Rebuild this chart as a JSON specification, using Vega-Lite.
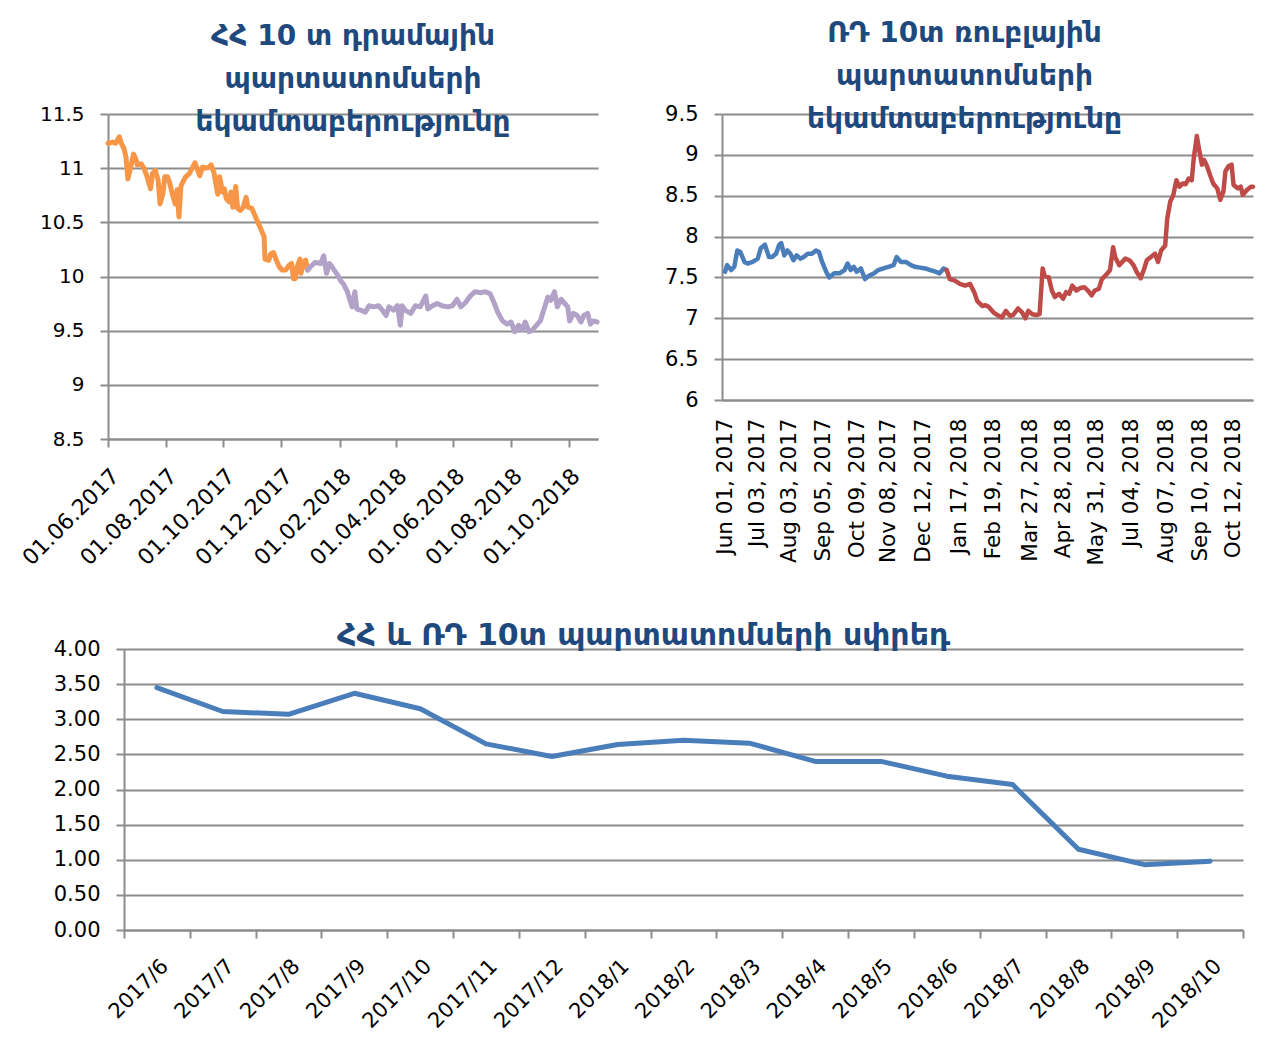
{
  "$schema": "https://vega.github.io/schema/vega-lite/v6.json",
  "background": "white",
  "padding": {"left": 17, "top": 20, "right": 5, "bottom": 5},
  "config": {
    "font": "DejaVu Sans",
    "view": {"stroke": null},
    "axis": {
      "labelFont": "DejaVu Sans", "labelFontSize": 20, "labelColor": "#000000",
      "domainColor": "#8c8c8c", "domainWidth": 2, "tickColor": "#8c8c8c", "tickWidth": 2, "tickSize": 8,
      "gridColor": "#8c8c8c", "gridWidth": 2, "labelPadding": 16, "title": null,
      "labelOverlap": false, "labelFlush": false
    },
    "title": {"font": "DejaVu Sans", "fontWeight": "bold", "color": "#1F497D", "anchor": "middle"}
  },
  "datasets": {
    "am": [
      {"d":"2017-06-01","v":11.23,"s":"o"},{"d":"2017-06-06","v":11.24,"s":"o"},{"d":"2017-06-09","v":11.23,"s":"o"},{"d":"2017-06-13","v":11.29,"s":"o"},{"d":"2017-06-15","v":11.23,"s":"o"},{"d":"2017-06-18","v":11.18,"s":"o"},{"d":"2017-06-20","v":11.10,"s":"o"},{"d":"2017-06-22","v":10.90,"s":"o"},{"d":"2017-06-25","v":11.01,"s":"o"},{"d":"2017-06-28","v":11.13,"s":"o"},{"d":"2017-07-01","v":11.07,"s":"o"},{"d":"2017-07-02","v":11.03,"s":"o"},{"d":"2017-07-06","v":11.04,"s":"o"},{"d":"2017-07-09","v":11.00,"s":"o"},{"d":"2017-07-12","v":10.93,"s":"o"},{"d":"2017-07-16","v":10.81,"s":"o"},{"d":"2017-07-18","v":10.95,"s":"o"},{"d":"2017-07-21","v":10.98,"s":"o"},{"d":"2017-07-24","v":10.89,"s":"o"},{"d":"2017-07-26","v":10.67,"s":"o"},{"d":"2017-07-29","v":10.76,"s":"o"},{"d":"2017-07-31","v":10.92,"s":"o"},{"d":"2017-08-03","v":10.92,"s":"o"},{"d":"2017-08-05","v":10.87,"s":"o"},{"d":"2017-08-08","v":10.76,"s":"o"},{"d":"2017-08-11","v":10.67,"s":"o"},{"d":"2017-08-13","v":10.80,"s":"o"},{"d":"2017-08-15","v":10.55,"s":"o"},{"d":"2017-08-17","v":10.83,"s":"o"},{"d":"2017-08-19","v":10.87,"s":"o"},{"d":"2017-08-22","v":10.92,"s":"o"},{"d":"2017-08-26","v":10.95,"s":"o"},{"d":"2017-08-29","v":11.00,"s":"o"},{"d":"2017-09-01","v":11.05,"s":"o"},{"d":"2017-09-03","v":11.00,"s":"o"},{"d":"2017-09-06","v":10.93,"s":"o"},{"d":"2017-09-09","v":11.01,"s":"o"},{"d":"2017-09-12","v":11.00,"s":"o"},{"d":"2017-09-16","v":11.01,"s":"o"},{"d":"2017-09-18","v":11.03,"s":"o"},{"d":"2017-09-21","v":10.96,"s":"o"},{"d":"2017-09-23","v":10.86,"s":"o"},{"d":"2017-09-25","v":10.76,"s":"o"},{"d":"2017-09-27","v":10.92,"s":"o"},{"d":"2017-09-30","v":10.78,"s":"o"},{"d":"2017-10-02","v":10.81,"s":"o"},{"d":"2017-10-04","v":10.72,"s":"o"},{"d":"2017-10-07","v":10.69,"s":"o"},{"d":"2017-10-09","v":10.78,"s":"o"},{"d":"2017-10-11","v":10.64,"s":"o"},{"d":"2017-10-14","v":10.83,"s":"o"},{"d":"2017-10-16","v":10.63,"s":"o"},{"d":"2017-10-19","v":10.61,"s":"o"},{"d":"2017-10-22","v":10.64,"s":"o"},{"d":"2017-10-25","v":10.73,"s":"o"},{"d":"2017-10-27","v":10.64,"s":"o"},{"d":"2017-10-31","v":10.63,"s":"o"},{"d":"2017-11-04","v":10.55,"s":"o"},{"d":"2017-11-07","v":10.49,"s":"o"},{"d":"2017-11-10","v":10.43,"s":"o"},{"d":"2017-11-13","v":10.37,"s":"o"},{"d":"2017-11-14","v":10.16,"s":"o"},{"d":"2017-11-18","v":10.15,"s":"o"},{"d":"2017-11-20","v":10.21,"s":"o"},{"d":"2017-11-23","v":10.22,"s":"o"},{"d":"2017-11-26","v":10.15,"s":"o"},{"d":"2017-11-29","v":10.09,"s":"o"},{"d":"2017-12-02","v":10.06,"s":"o"},{"d":"2017-12-06","v":10.06,"s":"o"},{"d":"2017-12-09","v":10.10,"s":"o"},{"d":"2017-12-12","v":10.12,"s":"o"},{"d":"2017-12-14","v":9.98,"s":"o"},{"d":"2017-12-16","v":9.98,"s":"o"},{"d":"2017-12-18","v":10.09,"s":"o"},{"d":"2017-12-21","v":10.16,"s":"o"},{"d":"2017-12-22","v":10.03,"s":"o"},{"d":"2017-12-25","v":10.13,"s":"o"},{"d":"2017-12-27","v":10.15,"s":"o"},{"d":"2017-12-29","v":10.06,"s":"o"},
      {"d":"2017-12-29","v":10.06,"s":"l"},{"d":"2018-01-01","v":10.09,"s":"l"},{"d":"2018-01-06","v":10.13,"s":"l"},{"d":"2018-01-12","v":10.12,"s":"l"},{"d":"2018-01-15","v":10.19,"s":"l"},{"d":"2018-01-18","v":10.03,"s":"l"},{"d":"2018-01-21","v":10.12,"s":"l"},{"d":"2018-01-23","v":10.10,"s":"l"},{"d":"2018-01-26","v":10.06,"s":"l"},{"d":"2018-01-30","v":10.01,"s":"l"},{"d":"2018-02-02","v":9.96,"s":"l"},{"d":"2018-02-05","v":9.93,"s":"l"},{"d":"2018-02-09","v":9.86,"s":"l"},{"d":"2018-02-14","v":9.72,"s":"l"},{"d":"2018-02-17","v":9.86,"s":"l"},{"d":"2018-02-19","v":9.70,"s":"l"},{"d":"2018-02-23","v":9.69,"s":"l"},{"d":"2018-02-28","v":9.67,"s":"l"},{"d":"2018-03-04","v":9.73,"s":"l"},{"d":"2018-03-09","v":9.72,"s":"l"},{"d":"2018-03-14","v":9.73,"s":"l"},{"d":"2018-03-18","v":9.69,"s":"l"},{"d":"2018-03-22","v":9.64,"s":"l"},{"d":"2018-03-25","v":9.72,"s":"l"},{"d":"2018-03-30","v":9.69,"s":"l"},{"d":"2018-04-03","v":9.73,"s":"l"},{"d":"2018-04-06","v":9.55,"s":"l"},{"d":"2018-04-08","v":9.73,"s":"l"},{"d":"2018-04-11","v":9.69,"s":"l"},{"d":"2018-04-17","v":9.66,"s":"l"},{"d":"2018-04-22","v":9.73,"s":"l"},{"d":"2018-04-27","v":9.72,"s":"l"},{"d":"2018-05-03","v":9.82,"s":"l"},{"d":"2018-05-05","v":9.70,"s":"l"},{"d":"2018-05-10","v":9.73,"s":"l"},{"d":"2018-05-15","v":9.75,"s":"l"},{"d":"2018-05-20","v":9.73,"s":"l"},{"d":"2018-05-26","v":9.72,"s":"l"},{"d":"2018-05-31","v":9.73,"s":"l"},{"d":"2018-06-05","v":9.79,"s":"l"},{"d":"2018-06-09","v":9.72,"s":"l"},{"d":"2018-06-14","v":9.76,"s":"l"},{"d":"2018-06-19","v":9.82,"s":"l"},{"d":"2018-06-24","v":9.86,"s":"l"},{"d":"2018-06-30","v":9.85,"s":"l"},{"d":"2018-07-05","v":9.86,"s":"l"},{"d":"2018-07-10","v":9.84,"s":"l"},{"d":"2018-07-14","v":9.76,"s":"l"},{"d":"2018-07-18","v":9.67,"s":"l"},{"d":"2018-07-23","v":9.59,"s":"l"},{"d":"2018-07-28","v":9.56,"s":"l"},{"d":"2018-08-01","v":9.58,"s":"l"},{"d":"2018-08-05","v":9.49,"s":"l"},{"d":"2018-08-09","v":9.55,"s":"l"},{"d":"2018-08-13","v":9.51,"s":"l"},{"d":"2018-08-16","v":9.58,"s":"l"},{"d":"2018-08-20","v":9.49,"s":"l"},{"d":"2018-08-23","v":9.50,"s":"l"},{"d":"2018-08-29","v":9.56,"s":"l"},{"d":"2018-09-01","v":9.59,"s":"l"},{"d":"2018-09-05","v":9.70,"s":"l"},{"d":"2018-09-09","v":9.81,"s":"l"},{"d":"2018-09-12","v":9.78,"s":"l"},{"d":"2018-09-16","v":9.86,"s":"l"},{"d":"2018-09-19","v":9.72,"s":"l"},{"d":"2018-09-23","v":9.79,"s":"l"},{"d":"2018-09-26","v":9.76,"s":"l"},{"d":"2018-09-30","v":9.72,"s":"l"},{"d":"2018-10-02","v":9.59,"s":"l"},{"d":"2018-10-06","v":9.66,"s":"l"},{"d":"2018-10-10","v":9.64,"s":"l"},{"d":"2018-10-14","v":9.58,"s":"l"},{"d":"2018-10-17","v":9.64,"s":"l"},{"d":"2018-10-21","v":9.66,"s":"l"},{"d":"2018-10-24","v":9.56,"s":"l"},{"d":"2018-10-27","v":9.59,"s":"l"},{"d":"2018-10-31","v":9.58,"s":"l"}
    ],
    "ru": [
      {"d":"2017-06-01","v":7.57,"s":"b"},{"d":"2017-06-03","v":7.65,"s":"b"},{"d":"2017-06-07","v":7.59,"s":"b"},{"d":"2017-06-10","v":7.63,"s":"b"},{"d":"2017-06-13","v":7.83,"s":"b"},{"d":"2017-06-16","v":7.81,"s":"b"},{"d":"2017-06-20","v":7.69,"s":"b"},{"d":"2017-06-23","v":7.67,"s":"b"},{"d":"2017-06-28","v":7.69,"s":"b"},{"d":"2017-07-03","v":7.73,"s":"b"},{"d":"2017-07-06","v":7.86,"s":"b"},{"d":"2017-07-10","v":7.90,"s":"b"},{"d":"2017-07-14","v":7.75,"s":"b"},{"d":"2017-07-17","v":7.75,"s":"b"},{"d":"2017-07-21","v":7.79,"s":"b"},{"d":"2017-07-24","v":7.90,"s":"b"},{"d":"2017-07-26","v":7.92,"s":"b"},{"d":"2017-07-29","v":7.77,"s":"b"},{"d":"2017-08-01","v":7.83,"s":"b"},{"d":"2017-08-04","v":7.79,"s":"b"},{"d":"2017-08-07","v":7.71,"s":"b"},{"d":"2017-08-10","v":7.77,"s":"b"},{"d":"2017-08-14","v":7.73,"s":"b"},{"d":"2017-08-17","v":7.75,"s":"b"},{"d":"2017-08-21","v":7.79,"s":"b"},{"d":"2017-08-25","v":7.79,"s":"b"},{"d":"2017-08-29","v":7.83,"s":"b"},{"d":"2017-09-01","v":7.81,"s":"b"},{"d":"2017-09-04","v":7.69,"s":"b"},{"d":"2017-09-08","v":7.57,"s":"b"},{"d":"2017-09-11","v":7.50,"s":"b"},{"d":"2017-09-16","v":7.55,"s":"b"},{"d":"2017-09-21","v":7.55,"s":"b"},{"d":"2017-09-26","v":7.59,"s":"b"},{"d":"2017-09-29","v":7.67,"s":"b"},{"d":"2017-10-02","v":7.59,"s":"b"},{"d":"2017-10-05","v":7.63,"s":"b"},{"d":"2017-10-08","v":7.57,"s":"b"},{"d":"2017-10-12","v":7.61,"s":"b"},{"d":"2017-10-16","v":7.48,"s":"b"},{"d":"2017-10-20","v":7.52,"s":"b"},{"d":"2017-10-25","v":7.55,"s":"b"},{"d":"2017-10-29","v":7.59,"s":"b"},{"d":"2017-11-03","v":7.61,"s":"b"},{"d":"2017-11-08","v":7.63,"s":"b"},{"d":"2017-11-13","v":7.65,"s":"b"},{"d":"2017-11-16","v":7.75,"s":"b"},{"d":"2017-11-20","v":7.69,"s":"b"},{"d":"2017-11-25","v":7.69,"s":"b"},{"d":"2017-11-30","v":7.65,"s":"b"},{"d":"2017-12-04","v":7.63,"s":"b"},{"d":"2017-12-09","v":7.62,"s":"b"},{"d":"2017-12-14","v":7.61,"s":"b"},{"d":"2017-12-19","v":7.59,"s":"b"},{"d":"2017-12-24","v":7.57,"s":"b"},{"d":"2017-12-28","v":7.55,"s":"b"},{"d":"2018-01-01","v":7.61,"s":"b"},{"d":"2018-01-04","v":7.59,"s":"b"},
      {"d":"2018-01-04","v":7.59,"s":"r"},{"d":"2018-01-07","v":7.48,"s":"r"},{"d":"2018-01-12","v":7.46,"s":"r"},{"d":"2018-01-17","v":7.42,"s":"r"},{"d":"2018-01-22","v":7.40,"s":"r"},{"d":"2018-01-27","v":7.42,"s":"r"},{"d":"2018-01-31","v":7.32,"s":"r"},{"d":"2018-02-03","v":7.21,"s":"r"},{"d":"2018-02-08","v":7.15,"s":"r"},{"d":"2018-02-11","v":7.16,"s":"r"},{"d":"2018-02-14","v":7.14,"s":"r"},{"d":"2018-02-19","v":7.07,"s":"r"},{"d":"2018-02-24","v":7.03,"s":"r"},{"d":"2018-02-27","v":7.01,"s":"r"},{"d":"2018-03-03","v":7.09,"s":"r"},{"d":"2018-03-07","v":7.03,"s":"r"},{"d":"2018-03-10","v":7.04,"s":"r"},{"d":"2018-03-15","v":7.12,"s":"r"},{"d":"2018-03-19","v":7.07,"s":"r"},{"d":"2018-03-22","v":7.00,"s":"r"},{"d":"2018-03-25","v":7.09,"s":"r"},{"d":"2018-03-29","v":7.05,"s":"r"},{"d":"2018-04-02","v":7.04,"s":"r"},{"d":"2018-04-05","v":7.05,"s":"r"},{"d":"2018-04-08","v":7.61,"s":"r"},{"d":"2018-04-10","v":7.52,"s":"r"},{"d":"2018-04-14","v":7.50,"s":"r"},{"d":"2018-04-17","v":7.34,"s":"r"},{"d":"2018-04-20","v":7.26,"s":"r"},{"d":"2018-04-24","v":7.30,"s":"r"},{"d":"2018-04-28","v":7.24,"s":"r"},{"d":"2018-05-01","v":7.32,"s":"r"},{"d":"2018-05-04","v":7.30,"s":"r"},{"d":"2018-05-07","v":7.40,"s":"r"},{"d":"2018-05-11","v":7.34,"s":"r"},{"d":"2018-05-15","v":7.37,"s":"r"},{"d":"2018-05-19","v":7.38,"s":"r"},{"d":"2018-05-23","v":7.33,"s":"r"},{"d":"2018-05-26","v":7.28,"s":"r"},{"d":"2018-05-29","v":7.34,"s":"r"},{"d":"2018-06-02","v":7.36,"s":"r"},{"d":"2018-06-05","v":7.48,"s":"r"},{"d":"2018-06-09","v":7.53,"s":"r"},{"d":"2018-06-13","v":7.59,"s":"r"},{"d":"2018-06-16","v":7.87,"s":"r"},{"d":"2018-06-18","v":7.75,"s":"r"},{"d":"2018-06-22","v":7.65,"s":"r"},{"d":"2018-06-25","v":7.69,"s":"r"},{"d":"2018-06-28","v":7.73,"s":"r"},{"d":"2018-07-02","v":7.71,"s":"r"},{"d":"2018-07-06","v":7.65,"s":"r"},{"d":"2018-07-09","v":7.57,"s":"r"},{"d":"2018-07-13","v":7.49,"s":"r"},{"d":"2018-07-16","v":7.59,"s":"r"},{"d":"2018-07-19","v":7.71,"s":"r"},{"d":"2018-07-23","v":7.75,"s":"r"},{"d":"2018-07-27","v":7.79,"s":"r"},{"d":"2018-07-30","v":7.69,"s":"r"},{"d":"2018-08-02","v":7.83,"s":"r"},{"d":"2018-08-06","v":7.89,"s":"r"},{"d":"2018-08-08","v":8.22,"s":"r"},{"d":"2018-08-11","v":8.43,"s":"r"},{"d":"2018-08-14","v":8.51,"s":"r"},{"d":"2018-08-17","v":8.69,"s":"r"},{"d":"2018-08-20","v":8.61,"s":"r"},{"d":"2018-08-23","v":8.65,"s":"r"},{"d":"2018-08-26","v":8.64,"s":"r"},{"d":"2018-08-29","v":8.71,"s":"r"},{"d":"2018-09-01","v":8.69,"s":"r"},{"d":"2018-09-03","v":8.96,"s":"r"},{"d":"2018-09-06","v":9.23,"s":"r"},{"d":"2018-09-08","v":9.08,"s":"r"},{"d":"2018-09-11","v":8.88,"s":"r"},{"d":"2018-09-13","v":8.94,"s":"r"},{"d":"2018-09-16","v":8.86,"s":"r"},{"d":"2018-09-19","v":8.75,"s":"r"},{"d":"2018-09-22","v":8.65,"s":"r"},{"d":"2018-09-26","v":8.59,"s":"r"},{"d":"2018-09-29","v":8.45,"s":"r"},{"d":"2018-10-02","v":8.55,"s":"r"},{"d":"2018-10-04","v":8.80,"s":"r"},{"d":"2018-10-07","v":8.86,"s":"r"},{"d":"2018-10-10","v":8.88,"s":"r"},{"d":"2018-10-12","v":8.63,"s":"r"},{"d":"2018-10-16","v":8.59,"s":"r"},{"d":"2018-10-19","v":8.61,"s":"r"},{"d":"2018-10-21","v":8.51,"s":"r"},{"d":"2018-10-25","v":8.57,"s":"r"},{"d":"2018-10-29","v":8.61,"s":"r"},{"d":"2018-10-31","v":8.61,"s":"r"}
    ],
    "spread": [
      {"m":"2017/6","v":3.45},{"m":"2017/7","v":3.11},{"m":"2017/8","v":3.07},{"m":"2017/9","v":3.37},{"m":"2017/10","v":3.15},{"m":"2017/11","v":2.65},{"m":"2017/12","v":2.47},{"m":"2018/1","v":2.64},{"m":"2018/2","v":2.70},{"m":"2018/3","v":2.66},{"m":"2018/4","v":2.40},{"m":"2018/5","v":2.40},{"m":"2018/6","v":2.19},{"m":"2018/7","v":2.07},{"m":"2018/8","v":1.15},{"m":"2018/9","v":0.93},{"m":"2018/10","v":0.98}
    ]
  },
  "concat": [
    {
      "hconcat": [
        {"width": 1, "height": 1, "data": {"values": []}, "mark": "point"},
        {
          "hconcat": [
            {
              "width": 490, "height": 325,
              "title": {"text": ["ՀՀ 10 տ դրամային", "պարտատոմսերի", "եկամտաբերությունը"], "fontSize": 28, "lineHeight": 43, "offset": -33},
              "data": {"name": "am"},
              "mark": {"type": "line", "strokeWidth": 5, "strokeJoin": "round", "strokeCap": "round"},
              "encoding": {
                "x": {"field": "d", "type": "temporal",
                  "scale": {"type": "utc", "domain": [{"year": 2017, "month": 6, "date": 1, "utc": true}, {"year": 2018, "month": 11, "date": 1, "utc": true}]},
                  "axis": {"format": "%d.%m.%Y", "labelAngle": -45, "grid": false, "labelPadding": 18, "labelFontSize": 22,
                    "values": [{"year": 2017, "month": 6, "date": 1, "utc": true}, {"year": 2017, "month": 8, "date": 1, "utc": true}, {"year": 2017, "month": 10, "date": 1, "utc": true}, {"year": 2017, "month": 12, "date": 1, "utc": true}, {"year": 2018, "month": 2, "date": 1, "utc": true}, {"year": 2018, "month": 4, "date": 1, "utc": true}, {"year": 2018, "month": 6, "date": 1, "utc": true}, {"year": 2018, "month": 8, "date": 1, "utc": true}, {"year": 2018, "month": 10, "date": 1, "utc": true}]}},
                "y": {"field": "v", "type": "quantitative", "scale": {"domain": [8.5, 11.5]},
                  "axis": {"values": [8.5, 9, 9.5, 10, 10.5, 11, 11.5], "format": "~g", "grid": true}},
                "color": {"field": "s", "type": "nominal", "scale": {"domain": ["o", "l", "b", "r"], "range": ["#F79646", "#B3A2C7", "#4A7EBB", "#BE4B48"]}, "legend": null}
              }
            },
            {
              "width": 531, "height": 286,
              "title": {"text": ["ՌԴ 10տ ռուբլային", "պարտատոմսերի", "եկամտաբերությունը"], "fontSize": 28, "lineHeight": 43, "offset": -31, "dx": -23},
              "data": {"name": "ru"},
              "mark": {"type": "line", "strokeWidth": 4.5, "strokeJoin": "round", "strokeCap": "round"},
              "encoding": {
                "x": {"field": "d", "type": "temporal",
                  "scale": {"type": "utc", "domain": [{"year": 2017, "month": 5, "date": 29, "utc": true}, {"year": 2018, "month": 10, "date": 31, "utc": true}]},
                  "axis": {"format": "%b %d, %Y", "labelAngle": -90, "grid": false, "ticks": false, "labelPadding": 18, "labelFontSize": 21.5,
                    "values": [{"year": 2017, "month": 6, "date": 1, "utc": true}, {"year": 2017, "month": 7, "date": 3, "utc": true}, {"year": 2017, "month": 8, "date": 3, "utc": true}, {"year": 2017, "month": 9, "date": 5, "utc": true}, {"year": 2017, "month": 10, "date": 9, "utc": true}, {"year": 2017, "month": 11, "date": 8, "utc": true}, {"year": 2017, "month": 12, "date": 12, "utc": true}, {"year": 2018, "month": 1, "date": 17, "utc": true}, {"year": 2018, "month": 2, "date": 19, "utc": true}, {"year": 2018, "month": 3, "date": 27, "utc": true}, {"year": 2018, "month": 4, "date": 28, "utc": true}, {"year": 2018, "month": 5, "date": 31, "utc": true}, {"year": 2018, "month": 7, "date": 4, "utc": true}, {"year": 2018, "month": 8, "date": 7, "utc": true}, {"year": 2018, "month": 9, "date": 10, "utc": true}, {"year": 2018, "month": 10, "date": 12, "utc": true}]}},
                "y": {"field": "v", "type": "quantitative", "scale": {"domain": [6, 9.5]},
                  "axis": {"values": [6, 6.5, 7, 7.5, 8, 8.5, 9, 9.5], "format": "~g", "grid": true, "labelFontSize": 21}},
                "color": {"field": "s", "type": "nominal", "scale": {"domain": ["o", "l", "b", "r"], "range": ["#F79646", "#B3A2C7", "#4A7EBB", "#BE4B48"]}, "legend": null}
              }
            }
          ],
          "spacing": 64
        }
      ],
      "spacing": 0
    },
    {
      "hconcat": [
        {"width": 1, "height": 1, "data": {"values": []}, "mark": "point"},
        {
          "width": 1119, "height": 281,
          "title": {"text": "ՀՀ  և ՌԴ 10տ պարտատոմսերի սփրեդ", "fontSize": 30, "offset": -13, "dx": -40},
          "data": {"name": "spread"},
          "mark": {"type": "line", "strokeWidth": 5, "strokeJoin": "round", "strokeCap": "round", "color": "#4A7EBB"},
          "encoding": {
            "x": {"field": "m", "type": "ordinal", "sort": null, "bandPosition": 0.5,
              "scale": {"type": "band", "paddingInner": 0, "paddingOuter": 0},
              "axis": {"labelAngle": -45, "tickBand": "extent", "grid": false, "labelPadding": 17, "labelFontSize": 21}},
            "y": {"field": "v", "type": "quantitative", "scale": {"domain": [0, 4]},
              "axis": {"values": [0, 0.5, 1, 1.5, 2, 2.5, 3, 3.5, 4], "format": ".2f", "grid": true, "minExtent": 106, "labelFontSize": 21}}
          }
        }
      ],
      "spacing": 0
    }
  ],
  "columns": 1,
  "spacing": 52
}
